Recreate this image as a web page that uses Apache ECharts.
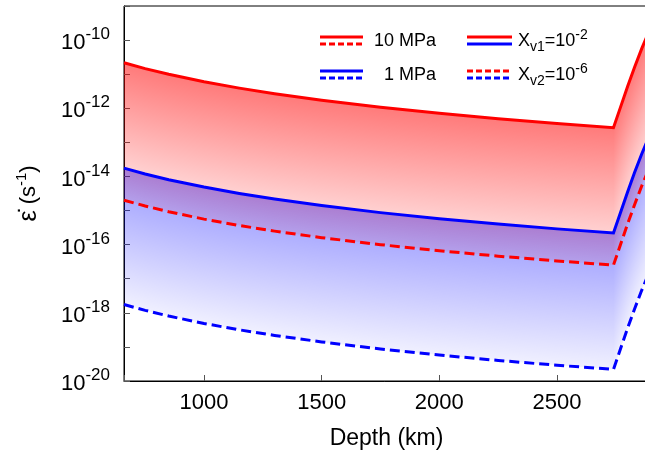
<!DOCTYPE html>
<html>
<head>
<meta charset="utf-8">
<script src="https://cdn.jsdelivr.net/npm/echarts@6/dist/echarts.min.js"></script>
<style>
html,body{margin:0;padding:0;background:#fff;}
#chart{width:645px;height:458px;}
</style>
</head>
<body>
<div id="chart"></div>
<script>
// Depth (km)
const depth = [660, 750, 850, 1000, 1150, 1300, 1500, 1750, 2000, 2250, 2500, 2740, 2770, 2800, 2830, 2860, 2891];
// strain rate (s^-1)
const rate10MPaXv1 = [2.16e-11, 1.455e-11, 9.91e-12, 6.00e-12, 3.90e-12, 2.67e-12, 1.72e-12, 1.07e-12, 7.10e-13, 4.93e-13, 3.56e-13, 2.69e-13, 1.08e-12, 4.33e-12, 1.62e-11, 5.62e-11, 1.82e-10];
const rate1MPaXv1  = [1.75e-14, 1.18e-14, 8.05e-15, 4.88e-15, 3.17e-15, 2.17e-15, 1.40e-15, 8.69e-16, 5.77e-16, 4.01e-16, 2.90e-16, 2.19e-16, 8.81e-16, 3.52e-15, 1.32e-14, 4.57e-14, 1.48e-13];
const rate10MPaXv2 = [2.01e-15, 1.36e-15, 9.25e-16, 5.60e-16, 3.64e-16, 2.49e-16, 1.60e-16, 9.98e-17, 6.62e-17, 4.60e-17, 3.33e-17, 2.51e-17, 1.01e-16, 4.04e-16, 1.51e-15, 5.25e-15, 1.70e-14];
const rate1MPaXv2  = [1.75e-18, 1.18e-18, 8.05e-19, 4.88e-19, 3.17e-19, 2.17e-19, 1.40e-19, 8.69e-20, 5.77e-20, 4.01e-20, 2.90e-20, 2.19e-20, 8.81e-20, 3.52e-19, 1.32e-18, 4.57e-18, 1.48e-17];
const xTickLabels = [1000, 1500, 2000, 2500];
const yLabelExponents = [-20, -18, -16, -14, -12, -10];

const FONT = '"Liberation Sans", Arial, Helvetica, sans-serif';
const RED = '#ff0000', BLUE = '#0000ff';
const DASH = [10, 5];

const chart = echarts.init(document.getElementById('chart'), null, {renderer: 'canvas'});

function pairs(arr) { return depth.map((d, i) => [d, arr[i]]); }

function interpY(pts, x) {
  if (x <= pts[0][0]) return pts[0][1];
  for (let i = 1; i < pts.length; i++) {
    if (x <= pts[i][0]) {
      const f = (x - pts[i - 1][0]) / (pts[i][0] - pts[i - 1][0]);
      return pts[i - 1][1] + f * (pts[i][1] - pts[i - 1][1]);
    }
  }
  return pts[pts.length - 1][1];
}

// band filled column by column, shading from the upper to the lower curve
function band(topArr, botArr, stops, z) {
  return {
    type: 'custom',
    coordinateSystem: 'cartesian2d',
    data: [[depth[0], topArr[0]]],
    encode: {x: 0, y: 1},
    clip: true,
    silent: true,
    z: z,
    renderItem: function (params, api) {
      const top = depth.map((d, i) => api.coord([d, topArr[i]]));
      const bot = depth.map((d, i) => api.coord([d, botArr[i]]));
      const x0 = Math.floor(top[0][0]);
      const x1 = Math.ceil(top[top.length - 1][0]);
      const children = [];
      for (let px = x0; px < x1; px++) {
        const xc = Math.min(Math.max(px + 0.5, top[0][0]), top[top.length - 1][0]);
        const yt = interpY(top, xc);
        const yb = interpY(bot, xc);
        children.push({
          type: 'rect',
          shape: {x: px, y: yt, width: 1, height: yb - yt},
          style: {fill: new echarts.graphic.LinearGradient(0, 0, 0, 1, stops)}
        });
      }
      return {type: 'group', children: children};
    }
  };
}

function lineSeries(arr, color, dashed) {
  return {
    type: 'line',
    data: pairs(arr),
    showSymbol: false,
    symbol: 'none',
    silent: true,
    z: 5,
    lineStyle: {color: color, width: 3, type: dashed ? DASH : 'solid', cap: 'butt', join: 'miter'}
  };
}

const redStops = [
  {offset: 0, color: 'rgba(255,0,0,0.52)'},
  {offset: 1, color: 'rgba(255,0,0,0.08)'}
];
const blueStops = [
  {offset: 0, color: 'rgba(0,0,255,0.40)'},
  {offset: 1, color: 'rgba(0,0,255,0.06)'}
];

// legend graphics
const legendItems = [];
function legLine(x1, x2, y, color, dashed) {
  legendItems.push({
    type: 'line', silent: true, z: 10,
    shape: {x1: x1, y1: y, x2: x2, y2: y},
    style: {stroke: color, lineWidth: 3, lineDash: dashed ? [6, 3] : null}
  });
}
legLine(320, 363, 37, RED, false);
legLine(320, 363, 44, RED, true);
legLine(320, 363, 71, BLUE, false);
legLine(320, 363, 78, BLUE, true);
legLine(467, 512, 37, RED, false);
legLine(467, 512, 44, BLUE, false);
legLine(467, 512, 71, RED, true);
legLine(467, 512, 78, BLUE, true);
const legRich = {
  n: {fontSize: 18, fontFamily: FONT, fill: '#000', lineHeight: 26},
  sub: {fontSize: 14, fontFamily: FONT, fill: '#000', lineHeight: 14, verticalAlign: 'bottom'},
  sup: {fontSize: 14, fontFamily: FONT, fill: '#000', lineHeight: 14, verticalAlign: 'top'}
};
legendItems.push({type: 'text', z: 10, silent: true, style: {text: '10 MPa', x: 436, y: 41, align: 'right', verticalAlign: 'middle', fontSize: 18, fontFamily: FONT, fill: '#000'}});
legendItems.push({type: 'text', z: 10, silent: true, style: {text: '1 MPa', x: 436, y: 75, align: 'right', verticalAlign: 'middle', fontSize: 18, fontFamily: FONT, fill: '#000'}});
legendItems.push({type: 'text', z: 10, silent: true, style: {text: '{n|X}{sub|v1}{n|=10}{sup|-2}', rich: legRich, x: 518, y: 41, align: 'left', verticalAlign: 'middle'}});
legendItems.push({type: 'text', z: 10, silent: true, style: {text: '{n|X}{sub|v2}{n|=10}{sup|-6}', rich: legRich, x: 518, y: 75, align: 'left', verticalAlign: 'middle'}});

const option = {
  animation: false,
  backgroundColor: '#fff',
  grid: {left: 124, top: 6, width: 525, height: 375, show: true, borderColor: '#000', borderWidth: 1,
         backgroundColor: 'transparent', outerBoundsMode: 'none', containLabel: false},
  xAxis: {
    type: 'value', min: 660, max: 2891,
    name: 'Depth (km)', nameLocation: 'middle', nameGap: 46,
    nameTextStyle: {fontSize: 23, color: '#000', fontFamily: FONT},
    axisLine: {show: true, lineStyle: {color: '#000', width: 1}},
    axisTick: {show: true, inside: true, length: 6, lineStyle: {color: '#555', width: 1}},
    axisLabel: {fontSize: 22, color: '#000', fontFamily: FONT, margin: 11,
      formatter: v => xTickLabels.indexOf(Math.round(v)) >= 0 ? String(Math.round(v)) : ''},
    splitLine: {show: false}
  },
  yAxis: {
    type: 'log', logBase: 10, min: 1e-20, max: 1e-9, interval: 1,
    name: '{e|\u03B5\u0307} (s{sup|-1})', nameLocation: 'middle', nameGap: 80, nameRotate: 90,
    nameTextStyle: {fontSize: 22, color: '#000', fontFamily: FONT, lineHeight: 30,
      rich: {e: {fontSize: 25, fontFamily: FONT, color: '#000', lineHeight: 30},
             sup: {fontSize: 15, fontFamily: FONT, color: '#000', lineHeight: 15, verticalAlign: 'top'}}},
    axisLine: {show: true, lineStyle: {color: '#000', width: 1}},
    axisTick: {show: true, inside: true, length: 6, interval: 0, lineStyle: {color: '#555', width: 1}},
    axisLabel: {
      interval: 0, margin: 14, padding: [6, 0, 0, 0],
      formatter: function (v) {
        const e = Math.round(Math.log10(v));
        if (yLabelExponents.indexOf(e) < 0) return '';
        return '{b|10}{s|' + e + '}';
      },
      rich: {
        b: {fontSize: 22, fontFamily: FONT, color: '#000', lineHeight: 34},
        s: {fontSize: 17, fontFamily: FONT, color: '#000', lineHeight: 17, verticalAlign: 'top'}
      }
    },
    splitLine: {show: false},
    minorTick: {show: false}
  },
  graphic: legendItems,
  series: [
    band(rate1MPaXv1, rate1MPaXv2, blueStops, 1),
    band(rate10MPaXv1, rate10MPaXv2, redStops, 2),
    lineSeries(rate10MPaXv1, RED, false),
    lineSeries(rate10MPaXv2, RED, true),
    lineSeries(rate1MPaXv1, BLUE, false),
    lineSeries(rate1MPaXv2, BLUE, true)
  ]
};
chart.setOption(option);
</script>
</body>
</html>
